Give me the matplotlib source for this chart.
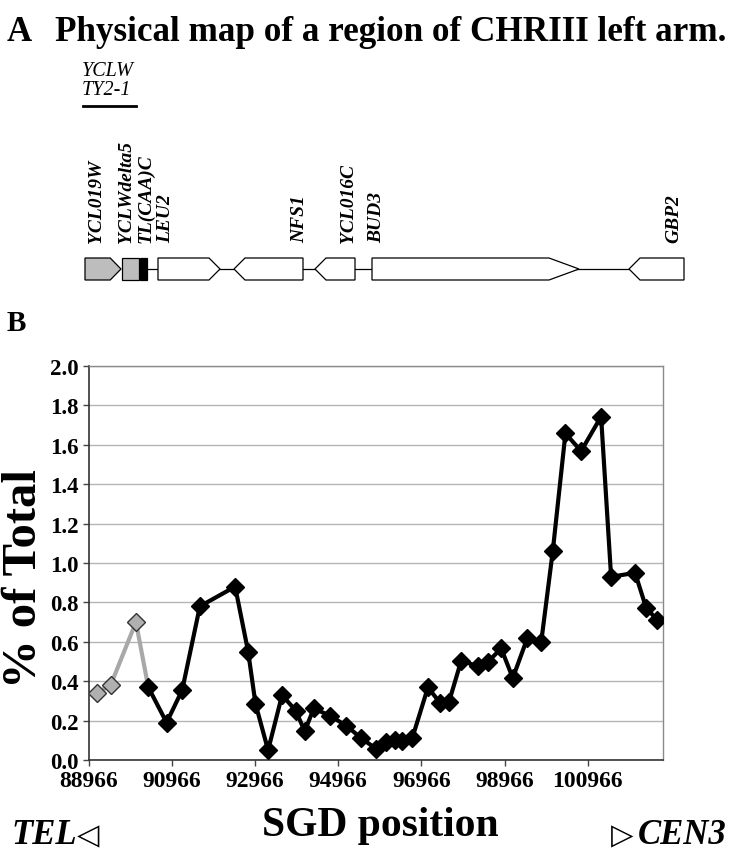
import matplotlib
matplotlib.use("Agg")
import matplotlib.pyplot as plt
from matplotlib.patches import Polygon
import numpy as np

# ---------------- data ----------------
positions = [89151, 89487, 90096, 90392, 90833, 91209, 91634, 92483, 92796, 92973,
             93276, 93613, 93942, 94158, 94375, 94759, 95161, 95521, 95882, 96122,
             96322, 96507, 96747, 97123, 97420, 97627, 97925, 98324, 98565, 98886,
             99165, 99512, 99848, 100127, 100432, 100809, 101290, 101531, 102108,
             102372, 102637]
values = [0.34, 0.38, 0.70, 0.37, 0.19, 0.355, 0.78, 0.88, 0.55, 0.285,
          0.05, 0.33, 0.25, 0.146, 0.262, 0.225, 0.174, 0.11, 0.056, 0.093,
          0.10, 0.095, 0.112, 0.369, 0.288, 0.293, 0.505, 0.475, 0.498, 0.566,
          0.416, 0.617, 0.597, 1.06, 1.658, 1.568, 1.743, 0.93, 0.95,
          0.774, 0.711]
n_gray = 3  # first points (Ty element region) drawn in gray

x_ticks = [88966, 90966, 92966, 94966, 96966, 98966, 100966]
y_ticks = [0.0, 0.2, 0.4, 0.6, 0.8, 1.0, 1.2, 1.4, 1.6, 1.8, 2.0]

# gene map (map coordinates)
gene_names = ["YCL019W", "YCLWdelta5", "TL(CAA)C", "LEU2", "NFS1", "YCL016C", "BUD3", "GBP2"]
gene_start = [85, 122, 140, 158, 234, 315, 372, 629]
gene_end = [121, 138.5, 147, 220, 303, 355, 579, 684]
gene_kind = ["right_gray", "rect_gray", "rect_black", "right", "left", "left", "right", "left"]
label_x = [97, 127, 146, 166, 300, 348, 377, 674]

SERIF = "Liberation Serif"
W, H = 732, 853
fig = plt.figure(figsize=(W / 100, H / 100), dpi=100)

# ---------------- panel A (overlay in pixel coords) ----------------
axA = fig.add_axes([0, 0, 1, 1])
axA.set_xlim(0, W)
axA.set_ylim(H, 0)
axA.axis("off")

axA.text(7, 32, "A", fontfamily=SERIF, fontweight="bold", fontsize=25, va="center", ha="left")
axA.text(55, 32, "Physical map of a region of CHRIII left arm.", fontfamily=SERIF,
         fontweight="bold", fontsize=25.3, va="center", ha="left")
axA.text(82, 71, "YCLW", fontfamily=SERIF, fontstyle="italic", fontsize=14.5, va="center", ha="left")
axA.text(82, 90, "TY2-1", fontfamily=SERIF, fontstyle="italic", fontsize=14.5, va="center", ha="left")
axA.plot([83, 136], [107, 107], color="black", lw=2)

y_top, y_bot = 259, 281
y_mid = (y_top + y_bot) / 2
axA.plot([gene_end[2], gene_start[-1]], [y_mid, y_mid], color="black", lw=0.9, zorder=1)
for s, e, k in zip(gene_start, gene_end, gene_kind):
    head = 30 if (e - s) > 150 else min(11, (e - s) * 0.3)
    if k in ("right", "right_gray"):
        pts = [(s, y_top), (e - head, y_top), (e, y_mid), (e - head, y_bot), (s, y_bot)]
    elif k == "left":
        pts = [(s, y_mid), (s + head, y_top), (e, y_top), (e, y_bot), (s + head, y_bot)]
    else:
        pts = [(s, y_top), (e, y_top), (e, y_bot), (s, y_bot)]
    fc = {"right_gray": "#bdbdbd", "rect_gray": "#bdbdbd", "rect_black": "black"}.get(k, "white")
    axA.add_patch(Polygon(pts, closed=True, fc=fc, ec="black", lw=0.9, zorder=2))

for name, lx in zip(gene_names, label_x):
    axA.text(lx, 243, name, rotation=90, fontfamily=SERIF, fontweight="bold",
             fontstyle="italic", fontsize=14, ha="center", va="bottom")

axA.text(7, 323, "B", fontfamily=SERIF, fontweight="bold", fontsize=21, va="center", ha="left")

# ---------------- panel B ----------------
left, right, top, bottom = 89, 663, 367, 761
ax = fig.add_axes([left / W, (H - bottom) / H, (right - left) / W, (bottom - top) / H])
ax.set_xlim(88966, 102780)
ax.set_ylim(0, 2.0)
ax.set_xticks(x_ticks)
ax.set_xticklabels([str(t) for t in x_ticks])
ax.set_yticks(y_ticks)
ax.set_yticklabels([f"{t:.1f}" for t in y_ticks])
ax.grid(axis="y", color="#b5b5b5", lw=1.0)
ax.set_axisbelow(True)
for sp in ["top", "right"]:
    ax.spines[sp].set_color("#8a8a8a")
    ax.spines[sp].set_linewidth(1.0)
for sp in ["left", "bottom"]:
    ax.spines[sp].set_color("#333333")
    ax.spines[sp].set_linewidth(1.2)
ax.tick_params(axis="both", direction="out", length=4.5, width=1, color="#444444")
for lab in ax.get_xticklabels():
    lab.set_fontfamily(SERIF)
    lab.set_fontweight("bold")
    lab.set_fontsize(17)
for lab in ax.get_yticklabels():
    lab.set_fontfamily(SERIF)
    lab.set_fontweight("bold")
    lab.set_fontsize(16.5)
ax.tick_params(axis="y", pad=3)
ax.tick_params(axis="x", pad=3)

xs = np.array(positions)
ys = np.array(values)
ax.plot(xs[:n_gray + 1], ys[:n_gray + 1], color="#a8a8a8", lw=3, zorder=2)
ax.plot(xs[:n_gray], ys[:n_gray], ls="none", marker="D", ms=9, mfc="#b0b0b0",
        mec="#333333", mew=1.0, zorder=3)
ax.plot(xs[n_gray:], ys[n_gray:], color="black", lw=3, marker="D", ms=9,
        mfc="black", mec="black", zorder=4)

axA.text(225, 412, "CARC2", fontfamily=SERIF, fontweight="bold",
         fontstyle="italic", fontsize=20, ha="center", va="center")
axA.text(590, 412, "CARC1", fontfamily=SERIF, fontweight="bold",
         fontstyle="italic", fontsize=20, ha="center", va="center")

axA.text(24, 578, "% of Total", rotation=90, fontfamily=SERIF, fontweight="bold",
         fontsize=35, ha="center", va="center")
axA.text(380, 826, "SGD position", fontfamily=SERIF, fontweight="bold",
         fontsize=30, ha="center", va="center")
axA.text(11, 836, "TEL", fontfamily=SERIF, fontweight="bold", fontstyle="italic",
         fontsize=25, ha="left", va="center")
axA.text(77, 836, "\u25C1", fontfamily="DejaVu Sans", fontsize=21, ha="left", va="center")
axA.text(611, 836, "\u25B7", fontfamily="DejaVu Sans", fontsize=21, ha="left", va="center")
axA.text(727, 836, "CEN3", fontfamily=SERIF, fontweight="bold", fontstyle="italic",
         fontsize=25, ha="right", va="center")

fig.savefig("out.png", dpi=100)
